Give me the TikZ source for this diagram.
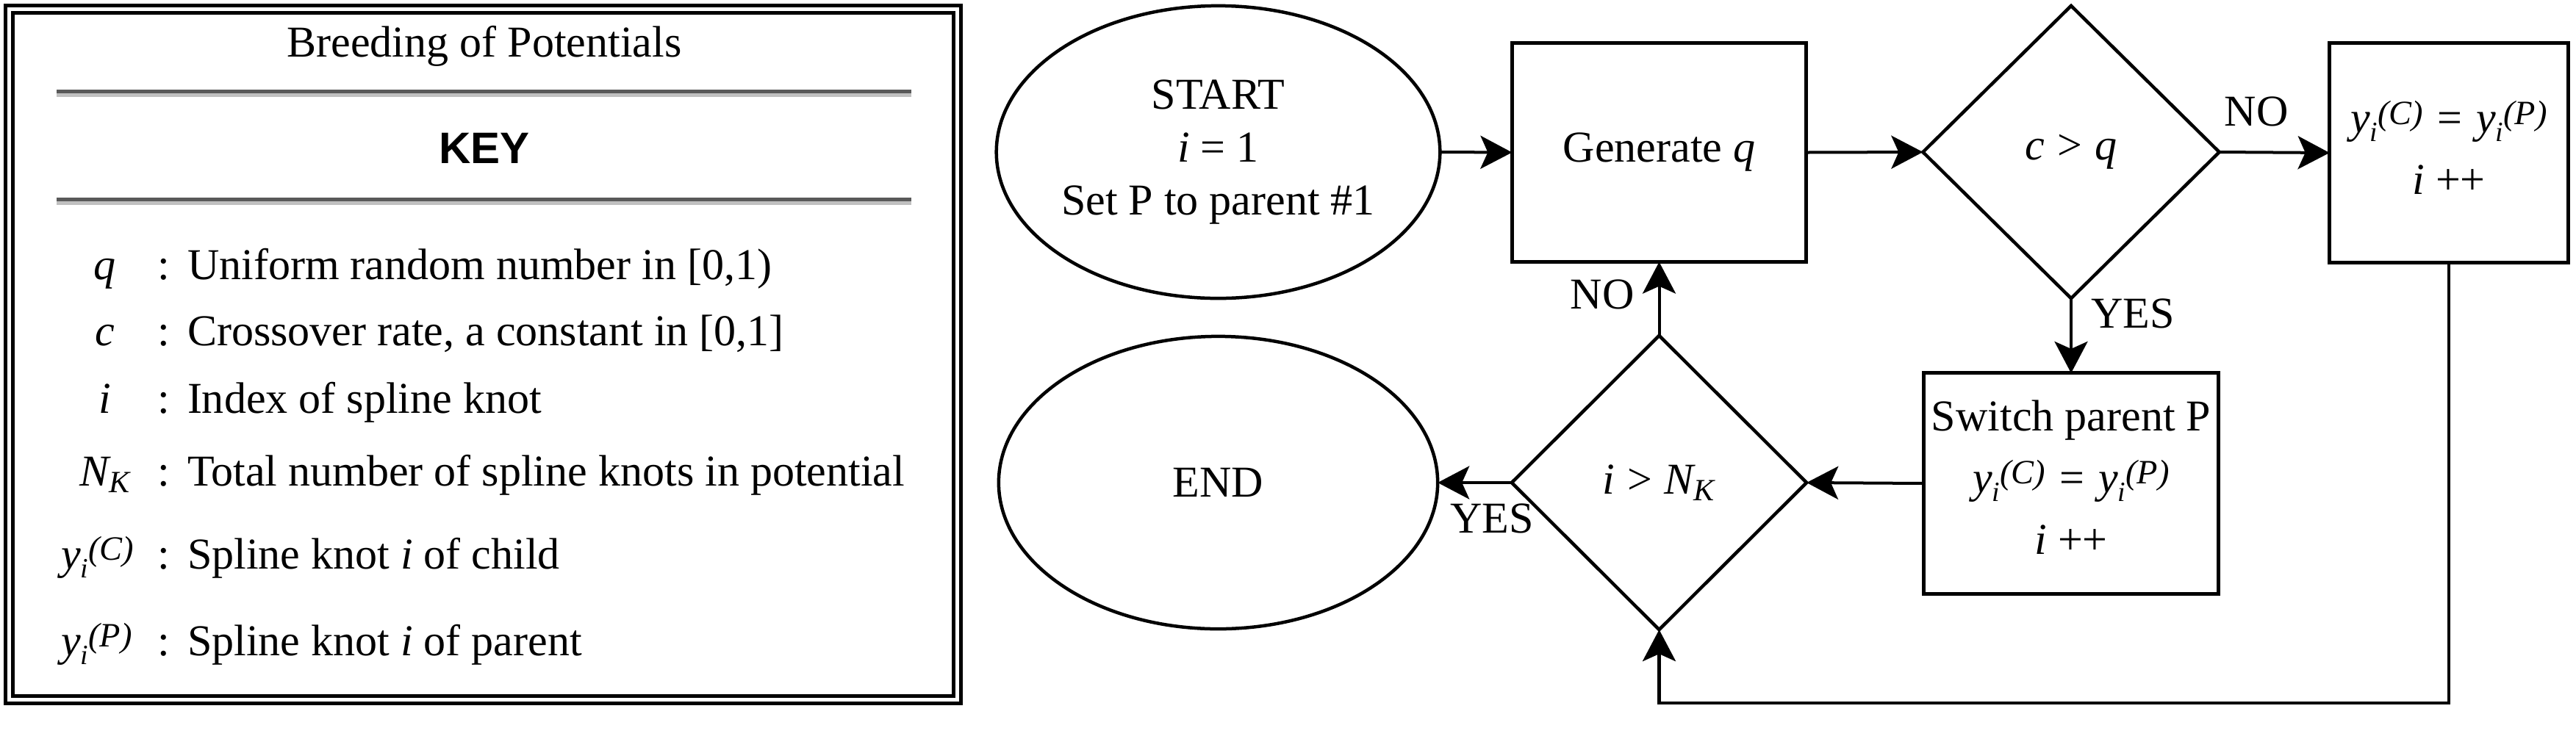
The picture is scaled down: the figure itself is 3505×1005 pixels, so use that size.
\documentclass[tikz,border=0pt]{standalone}
\usepackage{fontspec}
\usepackage{amsmath}
\setmainfont{Liberation Serif}
\newfontfamily\keyfont{Liberation Sans}
\usetikzlibrary{shapes.geometric,arrows.meta}
\newcommand{\mi}[1]{\text{\itshape #1}}
% y_i^(X) drawn as in the reference: superscript follows the subscript
\newcommand{\yk}[1]{\textit{y}\raisebox{-0.12cm}{\fontsize{10.8}{12}\selectfont\itshape i}\raisebox{0.115cm}{\fontsize{13.2}{14}\selectfont\itshape (#1)}}
\newcommand{\ykeq}{\yk{C}\hspace{0.19cm}=\hspace{0.19cm}\yk{P}}
\definecolor{ruledark}{HTML}{595959}
\definecolor{rulelight}{HTML}{C0C0C0}
\tikzset{
  every node/.style={font=\fontsize{17.07}{20.5}\selectfont, inner sep=0pt, outer sep=0pt},
  boxnode/.style={draw, rectangle, line width=0.05cm, align=center},
  ellnode/.style={draw, ellipse, line width=0.045cm, align=center},
  dianode/.style={draw, diamond, line width=0.045cm, align=center},
  conn/.style={line width=0.04cm, -{Stealth[length=0.43cm,width=0.45cm,inset=0.1cm]}},
  keyframe/.style={line width=0.05cm},
}
\begin{document}
\begin{tikzpicture}[x=0.01cm,y=-0.01cm]
\useasboundingbox (0,0) rectangle (3505,1005);

% ---------- KEY panel ----------
\draw[keyframe] (7.5,7.5) rectangle (1307.5,957.5);
\draw[keyframe] (17.5,17.5) rectangle (1297.5,947.5);
\fill[ruledark] (77,122) rectangle (1240,127);
\fill[rulelight] (77,127) rectangle (1240,132);
\fill[ruledark] (77,269) rectangle (1240,274);
\fill[rulelight] (77,274) rectangle (1240,279);

\node[anchor=base] (title) at (659,77) {Breeding of Potentials};
\node[anchor=base, font=\keyfont\bfseries\fontsize{17.07}{20}\selectfont] (keytitle) at (659,222) {KEY};

\node[anchor=base] (sq) at (143,380) {$\mi{q}$};
\node[anchor=base] (cq1) at (223,380) {:};
\node[anchor=base west] (tq) at (255,380) {Uniform random number in [0,1)};

\node[anchor=base] (sc) at (143,470) {$\mi{c}$};
\node[anchor=base] (cc1) at (223,470) {:};
\node[anchor=base west] (tc) at (255,470) {Crossover rate, a constant in [0,1]};

\node[anchor=base] (si) at (143,562) {$\mi{i}$};
\node[anchor=base] (ci1) at (223,562) {:};
\node[anchor=base west] (ti) at (255,562) {Index of spline knot};

\node[anchor=base] (sn) at (143,661) {$\mi{N}_{\mi{K}}$};
\node[anchor=base] (cn1) at (223,661) {:};
\node[anchor=base west] (tn) at (255,661) {Total number of spline knots in potential};

\node[anchor=base west] (syc) at (83,774) {\yk{C}};
\node[anchor=base] (cyc) at (223,774) {:};
\node[anchor=base west] (tyc) at (255,774) {Spline knot \textit{i} of child};

\node[anchor=base west] (syp) at (83,892) {\yk{P}};
\node[anchor=base] (cyp) at (223,892) {:};
\node[anchor=base west] (typ) at (255,892) {Spline knot \textit{i} of parent};

% ---------- Flowchart ----------
\node[ellnode, minimum width=5.97cm, minimum height=3.98cm] (start) at (1657.5,207)
  {START\\$\mi{i}$ = 1\\Set P to parent \#1};
\node[boxnode, minimum width=4.0cm, minimum height=2.98cm] (gen) at (2257.5,207.5)
  {Generate \textit{q}};
\node[dianode, minimum width=4.03cm, minimum height=3.98cm] (cmp) at (2818,207)
  {$\mi{c} \mathrel{\text{>}} \mi{q}$};
\node[boxnode, minimum width=3.245cm, minimum height=2.98cm,
      font=\fontsize{17.07}{23.9}\selectfont] (copy) at (3332,208)
  {\ykeq\\\textit{i} ++\rule[-0.14cm]{0pt}{0.1pt}};
\node[boxnode, minimum width=4.0cm, minimum height=3.0cm,
      font=\fontsize{17.07}{23.9}\selectfont] (switch) at (2818,658)
  {Switch parent P\\\ykeq\\\textit{i} ++\rule[-0.17cm]{0pt}{0.1pt}};
\node[dianode, minimum width=4.01cm, minimum height=4.0cm] (check) at (2257.5,657)
  {$\mi{i} \mathrel{\text{>}} \mi{N}_{\mi{K}}$};
\node[ellnode, minimum width=5.97cm, minimum height=3.98cm] (end) at (1657.5,657)
  {END};

% labels
\node (lno1) at (3070,152) {NO};
\node (lyes1) at (2902,427) {YES};
\node (lno2) at (2180,401) {NO};
\node (lyes2) at (2030,706) {YES};

% connectors
\draw[conn] (start.east) -- (gen.west);
\draw[conn] (gen.east) -- (cmp.west);
\draw[conn] (cmp.east) -- (copy.west);
\draw[conn] (cmp.south) -- (switch.north);
\draw[conn] (switch.west) -- (check.east);
\draw[conn] (check.west) -- (end.east);
\draw[conn] (check.north) -- (gen.south);
\coordinate (loopcorner) at (2257.5,957);
\draw[conn, line width=0.045cm] (copy.south) |- (loopcorner) -- (check.south);
\end{tikzpicture}
\end{document}
